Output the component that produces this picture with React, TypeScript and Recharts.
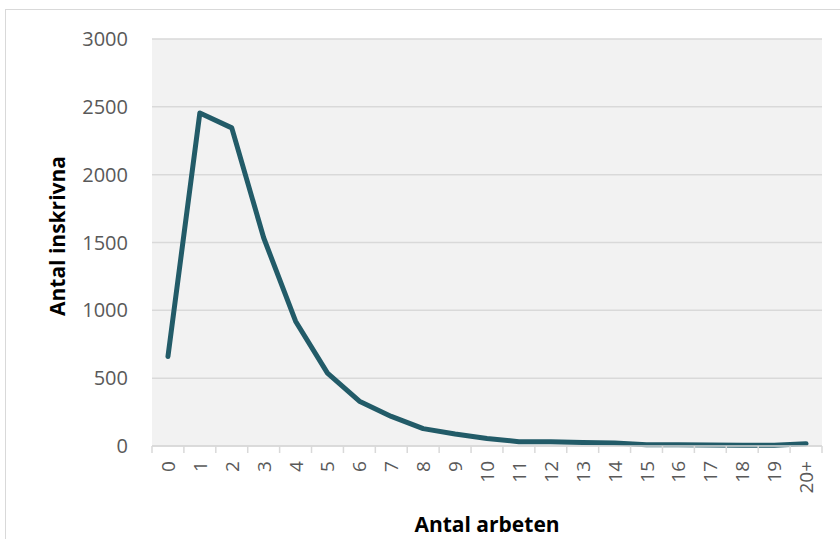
import React from "react";
import { LineChart, Line, XAxis, YAxis, CartesianGrid } from "recharts";

const categories = ["0", "1", "2", "3", "4", "5", "6", "7", "8", "9", "10", "11", "12", "13", "14", "15", "16", "17", "18", "19", "20+"];
const inskrivna = [660, 2455, 2345, 1535, 920, 537, 330, 218, 128, 88, 56, 32, 32, 25, 22, 10, 10, 8, 5, 6, 17];
const yTicks = [0, 500, 1000, 1500, 2000, 2500, 3000];

const data = categories.map((c, i) => ({ pos: i + 0.5, name: c, value: inskrivna[i] }));
const boundaryTicks = categories.map((_, i) => i).concat(categories.length);

const W = 840;
const H = 539;
const margin = { top: 39, right: 18, bottom: 0, left: 0 };
const yAxisWidth = 152;
const xAxisHeight = 93;
const plotWidth = W - margin.left - margin.right - yAxisWidth;
const band = plotWidth / categories.length;

const font = "'Open Sans', 'Noto Sans', sans-serif";

function XTick(props: any) {
  const { x, y, payload } = props;
  const i = payload.value;
  if (i >= categories.length) return null;
  const cx = x + band / 2;
  return (
    <text
      transform={`translate(${cx}, ${y + 6}) rotate(-90)`}
      textAnchor="end"
      dominantBaseline="central"
      fill="#595959"
      fontSize={19}
      fontFamily={font}
    >
      {categories[i]}
    </text>
  );
}

export default function App() {
  return (
    <div style={{ position: "absolute", left: 0, top: 0, width: W, height: H, overflow: "hidden", background: "#fff" }}>
      <style>{`body{margin:0;overflow:hidden}`}</style>
      <div style={{ position: "absolute", left: 5, top: 9, width: 900, height: 600, border: "1.5px solid #d9d9d9" }} />
      <div style={{ position: "absolute", left: 0, top: 0 }}>
        <LineChart width={W} height={H} data={data} margin={margin}>
          <CartesianGrid horizontal vertical={false} stroke="#d9d9d9" strokeWidth={1.5} fill="#f2f2f2" />
          <XAxis
            dataKey="pos"
            type="number"
            domain={[0, categories.length]}
            ticks={boundaryTicks}
            interval={0}
            height={xAxisHeight}
            axisLine={{ stroke: "#d9d9d9", strokeWidth: 1.5 }}
            tickLine={{ stroke: "#d9d9d9", strokeWidth: 1.5 }}
            tickSize={7}
            tickMargin={2}
            tick={<XTick />}
          />
          <YAxis
            domain={[0, 3000]}
            ticks={yTicks}
            width={yAxisWidth}
            axisLine={false}
            tickLine={false}
            tickSize={0}
            tickMargin={24}
            tick={{ fill: "#595959", fontSize: 20, fontFamily: font }}
          />
          <Line
            type="linear"
            dataKey="value"
            stroke="#225b68"
            strokeWidth={5}
            strokeLinecap="round"
            strokeLinejoin="round"
            dot={false}
            activeDot={false}
            isAnimationActive={false}
          />
        </LineChart>
      </div>
      <div
        style={{
          position: "absolute",
          left: 57,
          top: 236,
          transform: "translate(-50%, -50%) rotate(-90deg)",
          fontFamily: font,
          fontWeight: 700,
          fontSize: 21,
          color: "#000",
          whiteSpace: "nowrap",
        }}
      >
        Antal inskrivna
      </div>
      <div
        style={{
          position: "absolute",
          left: 487,
          top: 524,
          transform: "translate(-50%, -50%)",
          fontFamily: font,
          fontWeight: 700,
          fontSize: 21,
          color: "#000",
          whiteSpace: "nowrap",
        }}
      >
        Antal arbeten
      </div>
    </div>
  );
}
